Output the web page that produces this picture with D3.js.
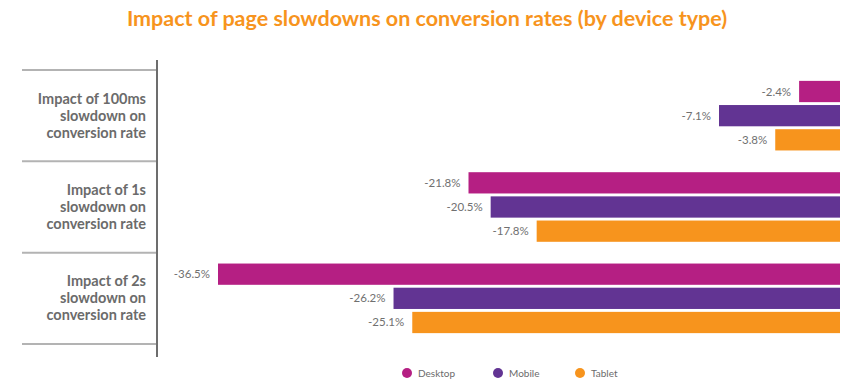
<!DOCTYPE html>
<html>
<head>
<meta charset="utf-8">
<script src="https://cdn.jsdelivr.net/npm/d3@7"></script>
<style>
  body { margin: 0; background: #fff; }
  text { font-family: Lato, "Open Sans", sans-serif; }
</style>
</head>
<body>
<script>
var svgWidth = 844;
var svgHeight = 382;

// data
var categories = ["Impact of 100ms slowdown on conversion rate",
                  "Impact of 1s slowdown on conversion rate",
                  "Impact of 2s slowdown on conversion rate"];
var categoryLines = [["Impact of 100ms", "slowdown on", "conversion rate"],
                     ["Impact of 1s", "slowdown on", "conversion rate"],
                     ["Impact of 2s", "slowdown on", "conversion rate"]];
var devices = ["Desktop", "Mobile", "Tablet"];
var desktop = [-2.4, -21.8, -36.5];
var mobile = [-7.1, -20.5, -26.2];
var tablet = [-3.8, -17.8, -25.1];
var colors = ["#b51f83", "#623493", "#f7941d"];

var series = [desktop, mobile, tablet];

var svg = d3.select("body").append("svg")
  .attr("width", svgWidth)
  .attr("height", svgHeight);

svg.append("text")
  .attr("x", 427)
  .attr("y", 26)
  .attr("text-anchor", "middle")
  .style("font-size", "21.5px")
  .style("font-weight", "bold")
  .style("fill", "#f7941d")
  .text("Impact of page slowdowns on conversion rates (by device type)");

var xScale = d3.scaleLinear()
  .domain([-36.5, 0])
  .range([218, 840]);

var yScale = d3.scaleBand()
  .domain(categories)
  .range([70, 344]);

var inner = d3.scaleBand()
  .domain(devices)
  .range([0, yScale.bandwidth()])
  .paddingInner(0.12)
  .paddingOuter(0.45);

// separators
svg.selectAll(".sep")
  .data(d3.range(categories.length + 1))
  .enter()
  .append("line")
  .attr("x1", 22)
  .attr("x2", 157)
  .attr("y1", function(i) { return i < categories.length ? yScale(categories[i]) : yScale.range()[1]; })
  .attr("y2", function(i) { return i < categories.length ? yScale(categories[i]) : yScale.range()[1]; })
  .style("stroke", "#b3b3b3")
  .style("stroke-width", 2);

// axis line
svg.append("line")
  .attr("x1", 157).attr("x2", 157)
  .attr("y1", 60).attr("y2", 357)
  .style("stroke", "#6d6d6d")
  .style("stroke-width", 2);

// category labels
categories.forEach(function(c, i) {
  var t = svg.append("text")
    .attr("text-anchor", "end")
    .style("font-size", "14.5px")
    .style("font-weight", "bold")
    .style("fill", "#6b6b6b");
  var cy = yScale(c) + yScale.bandwidth() / 2;
  categoryLines[i].forEach(function(line, j) {
    t.append("tspan")
      .attr("x", 146)
      .attr("y", cy + (j - 1) * 17 + 5)
      .text(line);
  });
});

// bars
var rows = [];
categories.forEach(function(c, i) {
  devices.forEach(function(d, k) {
    rows.push({cat: c, device: d, value: series[k][i], color: colors[k]});
  });
});

svg.selectAll(".bar")
  .data(rows)
  .enter()
  .append("rect")
  .attr("x", function(d) { return xScale(d.value); })
  .attr("y", function(d) { return yScale(d.cat) + inner(d.device); })
  .attr("width", function(d) { return xScale(0) - xScale(d.value); })
  .attr("height", inner.bandwidth())
  .style("fill", function(d) { return d.color; });

svg.selectAll(".val")
  .data(rows)
  .enter()
  .append("text")
  .attr("x", function(d) { return xScale(d.value) - 8; })
  .attr("y", function(d) { return yScale(d.cat) + inner(d.device) + inner.bandwidth() / 2 + 4; })
  .attr("text-anchor", "end")
  .style("font-size", "11.5px")
  .style("fill", "#707070")
  .text(function(d) { return d.value.toFixed(1) + "%"; });

// legend
var legendX = [407, 498, 580];
devices.forEach(function(d, k) {
  svg.append("circle")
    .attr("cx", legendX[k])
    .attr("cy", 373)
    .attr("r", 5)
    .style("fill", colors[k]);
  svg.append("text")
    .attr("x", legendX[k] + 11)
    .attr("y", 377)
    .style("font-size", "10px")
    .style("fill", "#6b6b6b")
    .text(d);
});
</script>
</body>
</html>
